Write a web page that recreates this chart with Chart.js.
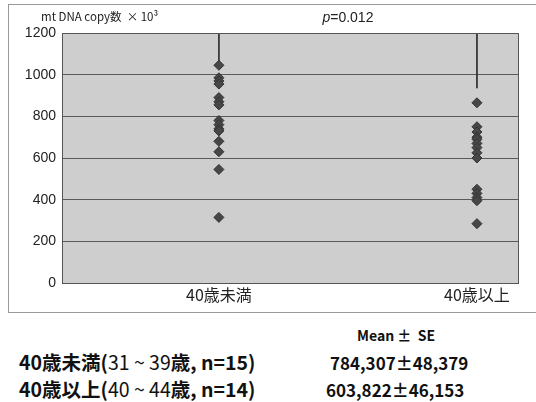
<!DOCTYPE html>
<html>
<head>
<meta charset="utf-8">
<script src="https://cdn.jsdelivr.net/npm/chart.js@4"></script>
<style>
  body { margin: 0; background: #fff; width: 536px; height: 402px; position: relative; overflow: hidden;
         font-family: "Noto Sans CJK JP", "Noto Sans", sans-serif; color: #111; }
  #box { position: absolute; left: 8px; top: 4px; width: 540px; height: 307px; border: 1px solid #9a9a9a; }
  #wrap { position: absolute; left: 0; top: 0; width: 536px; height: 318px; }
  .t { position: absolute; white-space: nowrap; font-weight: bold; }
</style>
</head>
<body>
<div id="box"></div>
<div id="wrap"><canvas id="grafico"></canvas></div>
<div class="t" style="left:357px; top:325px; font-size:14px;">Mean ±&nbsp; SE</div>
<div class="t" style="left:19px; top:347px; font-size:19.5px;">40歳未満(<span style="font-weight:normal">31 ~ 39</span>歳, n=15)</div>
<div class="t" style="left:330px; top:350px; font-size:17px;">784,307±48,379</div>
<div class="t" style="left:19px; top:374px; font-size:19.5px;">40歳以上(<span style="font-weight:normal">40 ~ 44</span>歳, n=14)</div>
<div class="t" style="left:326px; top:377px; font-size:17px;">603,822±46,153</div>
<script>
// datos (mtDNA copy x10^3)
const categorias = ['40歳未満', '40歳以上'];
const menores40 = [1045, 985, 970, 955, 890, 870, 855, 780, 760, 740, 730, 680, 630, 545, 315];
const mayores40 = [865, 750, 725, 700, 690, 670, 650, 625, 600, 450, 430, 410, 395, 285];
const finCorchete = [1055, 935];
const tituloY = 'mt DNA copy数  × 10³';
const valorP = '0.012';

const fondoPlot = {
    id: 'fondoPlot',
    beforeDraw(chart) {
        const { ctx, chartArea: a } = chart;
        ctx.save();
        ctx.fillStyle = '#cecece';
        ctx.fillRect(a.left, a.top, a.right - a.left, a.bottom - a.top);
        ctx.restore();
    },
    afterDraw(chart) {
        const { ctx, chartArea: a, scales } = chart;
        ctx.save();
        ctx.strokeStyle = '#555';
        ctx.lineWidth = 1;
        ctx.strokeRect(a.left + 0.5, a.top + 0.5, a.right - a.left - 1, a.bottom - a.top);
        ctx.fillStyle = '#222';
        ctx.font = '11.5px "Noto Sans CJK JP", sans-serif';
        ctx.textBaseline = 'middle';
        ctx.fillText(tituloY, 41, 17);
        // p valor centrado sobre el corchete
        const xm = scales.x.getPixelForValue(1.5);
        ctx.font = 'italic 14px "Liberation Sans", sans-serif';
        const w1 = ctx.measureText('p').width;
        ctx.font = '14px "Liberation Sans", sans-serif';
        const w2 = ctx.measureText('=' + valorP).width;
        let x0 = xm - (w1 + w2) / 2;
        ctx.font = 'italic 14px "Liberation Sans", sans-serif';
        ctx.fillText('p', x0, 18);
        ctx.font = '14px "Liberation Sans", sans-serif';
        ctx.fillText('=' + valorP, x0 + w1, 18);
        ctx.restore();
    }
};

const puntos = (arr, x) => arr.map(v => ({ x: x, y: v }));

new Chart(document.getElementById('grafico'), {
    type: 'scatter',
    data: {
        datasets: [
            { data: puntos(menores40, 1), pointStyle: 'rectRot', pointRadius: 5,
              backgroundColor: '#474747', borderColor: '#333', borderWidth: 1 },
            { data: puntos(mayores40, 2), pointStyle: 'rectRot', pointRadius: 5,
              backgroundColor: '#474747', borderColor: '#333', borderWidth: 1 },
            { type: 'line', data: [{ x: 1, y: 1200 }, { x: 1, y: finCorchete[0] }],
              borderColor: '#333', borderWidth: 1, pointRadius: 0 },
            { type: 'line', data: [{ x: 2, y: 1200 }, { x: 2, y: finCorchete[1] }],
              borderColor: '#333', borderWidth: 1, pointRadius: 0 }
        ]
    },
    options: {
        responsive: true,
        maintainAspectRatio: false,
        animation: false,
        layout: { padding: { top: 33, right: 17, left: 0, bottom: 0 } },
        plugins: { legend: { display: false }, tooltip: { enabled: false } },
        scales: {
            x: {
                type: 'linear', min: 0.392, max: 2.163,
                afterBuildTicks: (axis) => { axis.ticks = [1, 2].map(v => ({ value: v })); },
                afterFit: (axis) => { axis.height = 35; },
                grid: { display: false, drawTicks: false },
                border: { display: false },
                ticks: {
                    callback: (v) => categorias[v - 1],
                    font: { size: 16, family: '"Noto Sans CJK JP", sans-serif' },
                    color: '#222', padding: 2, maxRotation: 0
                }
            },
            y: {
                min: 0, max: 1200,
                afterFit: (axis) => { axis.width = 62; },
                grid: { color: '#5a5a5a', lineWidth: 1, drawTicks: false },
                border: { display: false },
                ticks: {
                    stepSize: 200,
                    callback: (v) => String(v),
                    font: { size: 14, family: '"Liberation Sans", sans-serif' },
                    color: '#222', padding: 6
                }
            }
        }
    },
    plugins: [fondoPlot]
});
</script>
</body>
</html>
